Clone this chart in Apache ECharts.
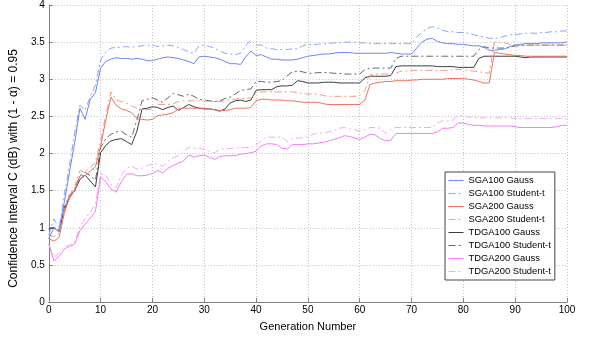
<!DOCTYPE html>
<html>
<head>
<meta charset="utf-8">
<script src="https://cdn.jsdelivr.net/npm/echarts@6/dist/echarts.min.js"></script>
<style>html,body{margin:0;padding:0;background:#fff}#c{width:589px;height:339px}</style>
</head>
<body>
<div id="c"></div>
<script>
const seriesNames = ['SGA100 Gauss','SGA100 Student-t','SGA200 Gauss','SGA200 Student-t','TDGA100 Gauss','TDGA100 Student-t','TDGA200 Gauss','TDGA200 Student-t'];
const xTicks = [0,10,20,30,40,50,60,70,80,90,100];
const yTicks = [0,0.5,1,1.5,2,2.5,3,3.5,4];

const sga100Gauss = [0.85,1.00,0.95,1.35,1.75,2.15,2.61,2.46,2.73,2.82,
3.15,3.24,3.27,3.29,3.28,3.28,3.27,3.28,3.27,3.25,
3.25,3.27,3.29,3.30,3.29,3.28,3.26,3.24,3.21,3.30,
3.31,3.30,3.29,3.27,3.24,3.21,3.21,3.20,3.30,3.38,
3.32,3.33,3.30,3.27,3.27,3.26,3.26,3.26,3.27,3.29,
3.31,3.32,3.33,3.34,3.34,3.35,3.36,3.36,3.36,3.35,
3.35,3.35,3.35,3.35,3.35,3.35,3.36,3.35,3.34,3.34,
3.34,3.42,3.50,3.54,3.55,3.51,3.49,3.48,3.48,3.47,
3.47,3.46,3.45,3.45,3.43,3.39,3.39,3.40,3.41,3.44,
3.46,3.47,3.48,3.48,3.48,3.49,3.49,3.49,3.49,3.49,3.50];

const sga100Student = [0.90,1.12,1.00,1.45,1.85,2.28,2.65,2.58,2.77,2.92,
3.26,3.37,3.42,3.43,3.43,3.44,3.43,3.44,3.45,3.46,
3.46,3.44,3.45,3.46,3.45,3.43,3.40,3.37,3.35,3.45,
3.46,3.44,3.42,3.38,3.35,3.34,3.33,3.35,3.45,3.53,
3.46,3.46,3.42,3.41,3.40,3.40,3.40,3.41,3.41,3.45,
3.47,3.47,3.47,3.48,3.48,3.49,3.49,3.50,3.50,3.50,
3.49,3.49,3.48,3.48,3.48,3.48,3.48,3.48,3.48,3.48,
3.48,3.57,3.63,3.68,3.71,3.69,3.66,3.64,3.64,3.63,
3.63,3.62,3.60,3.58,3.57,3.55,3.55,3.56,3.58,3.60,
3.60,3.61,3.62,3.62,3.62,3.63,3.63,3.64,3.64,3.65,3.65];

const sga200Gauss = [0.85,0.82,0.87,1.20,1.40,1.50,1.70,1.70,1.76,1.82,
2.10,2.45,2.76,2.65,2.60,2.58,2.55,2.47,2.46,2.45,
2.46,2.51,2.52,2.53,2.55,2.60,2.61,2.61,2.61,2.61,
2.61,2.60,2.59,2.58,2.58,2.59,2.61,2.61,2.61,2.62,
2.71,2.73,2.73,2.72,2.72,2.72,2.71,2.71,2.70,2.69,
2.69,2.69,2.69,2.67,2.66,2.66,2.66,2.66,2.66,2.66,
2.66,2.72,2.93,2.95,2.96,2.97,2.97,2.98,2.98,2.98,
2.99,2.99,3.00,3.00,3.00,3.00,3.00,3.01,3.01,3.01,
3.01,3.00,2.99,2.97,2.95,2.95,3.36,3.35,3.34,3.33,
3.32,3.32,3.31,3.31,3.31,3.31,3.31,3.31,3.31,3.31,3.31];

const sga200Student = [0.90,0.88,0.93,1.25,1.45,1.55,1.77,1.75,1.81,1.88,
2.17,2.52,2.83,2.72,2.70,2.68,2.64,2.61,2.59,2.59,
2.60,2.66,2.66,2.66,2.67,2.70,2.71,2.71,2.71,2.71,
2.71,2.70,2.70,2.70,2.71,2.73,2.73,2.74,2.74,2.75,
2.82,2.83,2.83,2.83,2.83,2.83,2.83,2.83,2.82,2.81,
2.80,2.80,2.80,2.78,2.77,2.77,2.77,2.77,2.77,2.77,
2.78,2.85,3.06,3.07,3.07,3.07,3.07,3.08,3.11,3.11,
3.12,3.12,3.12,3.12,3.12,3.12,3.12,3.12,3.13,3.13,
3.13,3.12,3.11,3.10,3.09,3.08,3.50,3.50,3.49,3.47,
3.46,3.46,3.46,3.46,3.46,3.46,3.46,3.46,3.46,3.46,3.46];

const tdga100Gauss = [0.98,1.00,0.95,1.25,1.41,1.50,1.65,1.71,1.63,1.55,
2.01,2.11,2.17,2.19,2.20,2.16,2.12,2.30,2.60,2.61,
2.63,2.62,2.59,2.62,2.64,2.58,2.62,2.66,2.63,2.61,
2.60,2.60,2.59,2.57,2.60,2.68,2.71,2.72,2.70,2.72,
2.85,2.86,2.86,2.86,2.90,2.91,2.91,2.92,2.98,2.97,
2.95,2.95,2.95,2.96,2.96,2.96,2.95,2.95,2.95,2.95,
2.95,3.02,3.04,3.04,3.04,3.04,3.05,3.17,3.18,3.18,
3.18,3.18,3.18,3.18,3.18,3.17,3.17,3.17,3.17,3.16,
3.16,3.16,3.16,3.28,3.31,3.31,3.31,3.31,3.31,3.31,
3.31,3.30,3.29,3.30,3.30,3.30,3.30,3.30,3.30,3.30,3.30];

const tdga100Student = [1.00,1.00,0.97,1.28,1.44,1.52,1.70,1.75,1.70,1.64,
2.08,2.20,2.26,2.29,2.30,2.25,2.22,2.45,2.71,2.73,
2.75,2.72,2.69,2.75,2.81,2.79,2.77,2.80,2.77,2.73,
2.72,2.71,2.70,2.71,2.74,2.76,2.80,2.85,2.86,2.87,
2.97,2.97,2.96,2.96,2.97,2.98,3.05,3.10,3.11,3.10,
3.08,3.08,3.09,3.09,3.09,3.08,3.08,3.07,3.07,3.07,
3.07,3.13,3.15,3.15,3.15,3.15,3.15,3.28,3.31,3.31,
3.31,3.31,3.31,3.31,3.31,3.31,3.31,3.31,3.31,3.31,
3.31,3.31,3.31,3.40,3.44,3.42,3.42,3.42,3.42,3.43,
3.45,3.45,3.46,3.46,3.46,3.46,3.46,3.46,3.46,3.46,3.46];

const tdga200Gauss = [0.78,0.55,0.62,0.71,0.75,0.78,0.96,1.05,1.13,1.22,
1.68,1.62,1.52,1.48,1.62,1.72,1.73,1.70,1.70,1.71,
1.73,1.77,1.74,1.80,1.84,1.87,1.90,1.98,1.95,1.97,
1.98,1.95,1.92,1.96,1.97,1.97,1.97,1.99,2.00,2.01,
2.03,2.10,2.13,2.13,2.12,2.07,2.06,2.12,2.12,2.12,
2.13,2.13,2.14,2.15,2.17,2.19,2.21,2.24,2.23,2.21,
2.19,2.22,2.26,2.25,2.20,2.17,2.18,2.27,2.27,2.27,
2.27,2.27,2.27,2.27,2.27,2.29,2.34,2.34,2.35,2.41,
2.41,2.39,2.38,2.38,2.37,2.37,2.37,2.37,2.37,2.37,
2.36,2.35,2.35,2.35,2.35,2.35,2.35,2.35,2.36,2.38,2.38];

const tdga200Student = [0.78,0.60,0.67,0.74,0.77,0.80,1.01,1.12,1.21,1.32,
1.72,1.71,1.58,1.54,1.71,1.80,1.83,1.79,1.80,1.84,
1.86,1.86,1.83,1.89,1.94,1.97,2.02,2.08,2.07,2.07,
2.06,2.03,2.01,2.06,2.06,2.07,2.07,2.08,2.08,2.08,
2.11,2.18,2.22,2.22,2.22,2.22,2.16,2.20,2.21,2.21,
2.23,2.26,2.27,2.28,2.29,2.31,2.34,2.35,2.33,2.32,
2.30,2.32,2.35,2.35,2.34,2.27,2.33,2.35,2.35,2.35,
2.35,2.35,2.35,2.35,2.35,2.41,2.44,2.44,2.45,2.51,
2.51,2.49,2.49,2.48,2.48,2.48,2.48,2.48,2.48,2.48,
2.47,2.47,2.47,2.47,2.47,2.47,2.47,2.47,2.47,2.47,2.47];

const allValues = [sga100Gauss, sga100Student, sga200Gauss, sga200Student, tdga100Gauss, tdga100Student, tdga200Gauss, tdga200Student];
const colors = ['#6a86ee','#8ea6f6','#f0705e','#f5998b','#3c3c3c','#666666','#f37cf3','#f6a6f6'];
const dashDot = [7,3,2,3];

const chart = echarts.init(document.getElementById('c'), null, {renderer:'canvas'});
const font = 'Liberation Sans, Arial, Helvetica, sans-serif';
chart.setOption({
  animation: false,
  backgroundColor: '#ffffff',
  grid: {left: 47, right: 22, top: 3, bottom: 37},
  legend: {
    show: true,
    orient: 'vertical', left: 445, top: 172,
    data: seriesNames,
    backgroundColor: '#ffffff', borderColor: '#444', borderWidth: 1,
    padding: [3, 4, 3, 3],
    itemWidth: 15, itemHeight: 10, itemGap: 2,
    itemStyle: {opacity: 0},
    lineStyle: {width: 1},
    textStyle: {fontFamily: font, fontSize: 9.4, lineHeight: 11, color: '#000'}
  },
  xAxis: {
    type: 'value', min: 0, max: 100, interval: 10,
    name: 'Generation Number', nameLocation: 'middle', nameGap: 19,
    nameTextStyle: {fontFamily: font, fontSize: 11, color: '#000'},
    axisLine: {show: true, lineStyle: {color: '#808080', width: 1}},
    axisTick: {show: true, inside: true, length: 4, lineStyle: {color: '#808080'}},
    axisLabel: {fontFamily: font, fontSize: 10, color: '#000', margin: 3,
      formatter: v => xTicks.includes(v) ? String(v) : ''},
    splitLine: {show: true, lineStyle: {color: '#c0c0c0', type: [1,2], width: 1}}
  },
  yAxis: {
    type: 'value', min: 0, max: 4, interval: 0.5,
    name: 'Confidence Interval C (dB) with (1 - α) = 0.95', nameLocation: 'middle', nameGap: 20,
    nameTextStyle: {fontFamily: font, fontSize: 12, color: '#000', padding: [0, 30, 0, 0]},
    axisLine: {show: true, lineStyle: {color: '#808080', width: 1}},
    axisTick: {show: true, inside: true, length: 4, lineStyle: {color: '#808080'}},
    axisLabel: {fontFamily: font, fontSize: 10, color: '#000', margin: 4,
      formatter: v => yTicks.includes(v) ? String(v) : ''},
    splitLine: {show: true, lineStyle: {color: '#c0c0c0', type: [1,2], width: 1}}
  },
  series: seriesNames.map((name, k) => ({
    name: name,
    type: 'line',
    symbol: 'none',
    data: allValues[k].map((v, i) => [i, v]),
    itemStyle: {color: colors[k]},
    lineStyle: {color: colors[k], width: 1, type: (k % 2 === 1) ? dashDot : 'solid'},
    z: 10 - k
  }))
});
</script>
</body>
</html>
